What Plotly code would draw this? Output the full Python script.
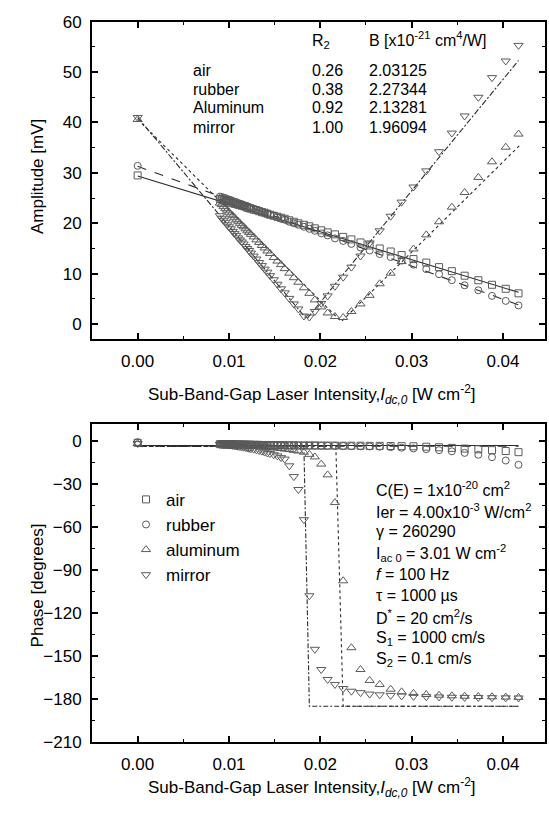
import plotly.graph_objects as go

# ---------------- data ----------------
X = [0.0, 0.0090, 0.0092, 0.0094, 0.0096, 0.0098, 0.0100, 0.0102, 0.0104, 0.0106,
     0.0108, 0.0110, 0.0112, 0.0114, 0.0116, 0.0118, 0.0120, 0.0122, 0.0124,
     0.0127, 0.0130, 0.0133, 0.0136, 0.0139, 0.0142, 0.0145,
     0.0149, 0.0153, 0.0157, 0.0161, 0.0166, 0.0171, 0.0176, 0.0182, 0.0188,
     0.0194, 0.0201, 0.0208, 0.0216, 0.0225, 0.0234, 0.0244, 0.0254, 0.0265, 0.0277,
     0.0289, 0.0302, 0.0316, 0.0330, 0.0344, 0.0358, 0.0373, 0.0388, 0.0403, 0.0417]

amp_air = [29.5, 24.8, 24.7, 24.6, 24.5, 24.4, 24.3, 24.1, 24.0, 23.9, 23.8, 23.7, 23.6, 23.5,
           23.4, 23.3, 23.1, 23.0, 22.9, 22.7, 22.6, 22.4, 22.2, 22.1, 21.9, 21.7,
           21.5, 21.3, 21.1, 20.9, 20.6, 20.3, 20.0, 19.7, 19.4,
           19.0, 18.6, 18.2, 17.8, 17.3, 16.8, 16.2, 15.6, 15.0, 14.4, 13.7, 12.9, 12.2,
           11.3, 10.5, 9.6, 8.7, 7.8, 7.0, 6.1]
amp_rubber = [31.4, 25.3, 25.2, 25.1, 25.0, 24.8, 24.7, 24.6, 24.4, 24.3, 24.2, 24.0, 23.9, 23.8,
              23.6, 23.5, 23.4, 23.2, 23.1, 22.9, 22.7, 22.5, 22.3, 22.1, 21.9, 21.7,
              21.5, 21.2, 20.9, 20.7, 20.3, 20.0, 19.7, 19.3, 18.9,
              18.5, 18.0, 17.6, 17.0, 16.5, 15.9, 15.2, 14.6, 13.9, 13.3, 12.6, 11.8, 10.9,
              9.9, 8.7, 7.7, 6.7, 5.6, 4.6, 3.7]
amp_aluminum = [40.6, 24.0, 23.7, 23.3, 22.9, 22.6, 22.2, 21.8, 21.5, 21.1, 20.7, 20.4, 20.0, 19.6,
                19.3, 18.9, 18.5, 18.2, 17.8, 17.3, 16.7, 16.2, 15.6, 15.1, 14.5, 14.0,
                13.2, 12.5, 11.8, 11.0, 10.1, 9.2, 8.3, 7.2, 6.1,
                4.8, 3.4, 2.2, 1.5, 1.3, 2.5, 4.0, 5.7, 8.0, 10.1, 12.4, 14.9, 17.7,
                20.3, 23.2, 26.1, 29.1, 32.2, 35.1, 37.7]
amp_mirror = [41.0, 21.5, 21.0, 20.6, 20.2, 19.7, 19.3, 18.9, 18.4, 18.0, 17.6, 17.1, 16.7, 16.3,
              15.9, 15.4, 15.0, 14.6, 14.1, 13.5, 12.9, 12.2, 11.6, 10.9, 10.3, 9.6,
              8.8, 7.9, 7.0, 6.2, 5.1, 4.0, 3.0, 1.6, 1.4,
              2.5, 4.1, 5.6, 7.5, 9.3, 11.3, 13.5, 16.1, 18.5, 21.4, 24.2, 27.2, 30.4,
              34.2, 37.9, 41.3, 45.0, 48.9, 52.2, 55.3]

ph_air = [-1.5, -2.4, -2.4, -2.5, -2.5, -2.5, -2.5, -2.6, -2.6, -2.6, -2.6, -2.7, -2.7, -2.7,
          -2.7, -2.8, -2.8, -2.8, -2.8, -2.9, -2.9, -2.9, -3.0, -3.0, -3.0, -3.0,
          -3.1, -3.1, -3.1, -3.2, -3.2, -3.2, -3.3, -3.3, -3.3,
          -3.3, -3.4, -3.4, -3.4, -3.5, -3.5, -3.5, -3.6, -3.6, -3.7, -3.8, -3.9, -4.2,
          -4.6, -5.0, -5.5, -6.0, -6.6, -7.2, -8.0]
ph_rubber = [-1.0, -2.5, -2.5, -2.6, -2.6, -2.6, -2.6, -2.7, -2.7, -2.7, -2.7, -2.8, -2.8, -2.8,
             -2.8, -2.9, -2.9, -2.9, -2.9, -3.0, -3.0, -3.0, -3.1, -3.1, -3.1, -3.2,
             -3.2, -3.2, -3.3, -3.3, -3.3, -3.4, -3.4, -3.4, -3.5,
             -3.5, -3.5, -3.6, -3.6, -3.7, -3.8, -3.9, -4.0, -4.2, -4.5, -4.9, -5.4, -5.9,
             -6.6, -7.4, -8.5, -9.8, -11.5, -13.8, -16.8]
ph_aluminum = [-2.0, -2.4, -2.4, -2.5, -2.5, -2.6, -2.6, -2.7, -2.7, -2.8, -2.8, -2.9, -2.9, -3.0,
               -3.0, -3.1, -3.1, -3.2, -3.3, -3.4, -3.6, -3.8, -4.0, -4.2, -4.4, -4.6,
               -4.9, -5.2, -5.5, -5.8, -6.2, -6.7, -7.2, -8.0, -9.5,
               -11.3, -16.3, -23.8, -43.1, -97.6, -144.2, -159.4, -167.0, -169.8, -173.1,
               -174.9, -176.0, -176.8, -177.3, -177.7, -178.0, -178.2, -178.4, -178.6, -178.8]
ph_mirror = [-2.0, -2.5, -2.6, -2.7, -2.8, -2.9, -3.0, -3.1, -3.3, -3.5, -3.7, -3.9, -4.1, -4.3,
             -4.5, -4.7, -5.0, -5.3, -5.6, -5.9, -6.4, -6.8, -7.3, -7.9, -8.6, -9.0,
             -9.8, -10.6, -11.8, -12.8, -17.5, -25.0, -34.0, -55.0, -108.0,
             -145.3, -159.4, -166.3, -169.8, -172.6, -174.5, -175.5, -176.5, -177.0, -177.4,
             -177.8, -178.1, -178.3, -178.5, -178.7, -178.8, -178.9, -179.0, -179.1, -179.2]

# model (fit) curves
fit_amp_air_x, fit_amp_air_y = [0.0, 0.0417], [29.4, 6.3]
fit_amp_rub_x, fit_amp_rub_y = [0.0, 0.0417], [31.3, 3.8]
fit_amp_al_x, fit_amp_al_y = [0.0, 0.0223, 0.0418], [40.6, 0.5, 35.4]
fit_amp_mi_x, fit_amp_mi_y = [0.0, 0.0185, 0.0417], [41.0, 1.0, 52.3]

fit_ph_air_x, fit_ph_air_y = [0.0, 0.0417], [-3.3, -3.3]
fit_ph_rub_x, fit_ph_rub_y = [0.0, 0.0417], [-3.9, -3.9]
fit_ph_al_x, fit_ph_al_y = [0.0, 0.0217, 0.0225, 0.0417], [-4.0, -4.0, -185.0, -185.0]
fit_ph_mi_x, fit_ph_mi_y = [0.0, 0.0182, 0.0188, 0.0417], [-4.0, -4.0, -185.0, -185.0]

table_names = ["air", "rubber", "Aluminum", "mirror"]
table_r2 = ["0.26", "0.38", "0.92", "1.00"]
table_b = ["2.03125", "2.27344", "2.13281", "1.96094"]

params = ["C(E) = 1x10<sup>-20</sup> cm<sup>2</sup>",
          "Ier = 4.00x10<sup>-3</sup> W/cm<sup>2</sup>",
          "\u03b3 = 260290",
          "I<sub>ac 0</sub> = 3.01 W cm<sup>-2</sup>",
          "<i>f</i> = 100 Hz",
          "\u03c4 = 1000 \u00b5s",
          "D<sup>*</sup> = 20 cm<sup>2</sup>/s",
          "S<sub>1</sub> = 1000 cm/s",
          "S<sub>2</sub> = 0.1 cm/s"]

# ---------------- figure ----------------
W, H = 549, 823
FONT = "Liberation Sans, Arial, sans-serif"
def px(x):
    return x / W
def py(y):
    return 1 - y / H

MC = "#5a5a5a"
LC = "#2a2a2a"
series = [("air", "square-open", 7), ("rubber", "circle-open", 7),
          ("aluminum", "triangle-up-open", 8), ("mirror", "triangle-down-open", 8)]
amp = [amp_air, amp_rubber, amp_aluminum, amp_mirror]
ph = [ph_air, ph_rubber, ph_aluminum, ph_mirror]

fig = go.Figure()

fits_top = [(fit_amp_air_x, fit_amp_air_y, "solid"), (fit_amp_rub_x, fit_amp_rub_y, "dash"),
            (fit_amp_al_x, fit_amp_al_y, "dot"), (fit_amp_mi_x, fit_amp_mi_y, "6px,2px,2px,2px")]
fits_bot = [(fit_ph_air_x, fit_ph_air_y, "solid"), (fit_ph_rub_x, fit_ph_rub_y, "dash"),
            (fit_ph_al_x, fit_ph_al_y, "dot"), (fit_ph_mi_x, fit_ph_mi_y, "5px,2px,2px,2px")]

for fx, fy, d in fits_top:
    fig.add_trace(go.Scatter(x=fx, y=fy, mode="lines", line=dict(color=LC, width=1.1, dash=d),
                             showlegend=False, xaxis="x", yaxis="y"))
for fx, fy, d in fits_bot:
    fig.add_trace(go.Scatter(x=fx, y=fy, mode="lines", line=dict(color=LC, width=1.1, dash=d),
                             showlegend=False, xaxis="x2", yaxis="y2"))

for (name, sym, sz), ya in zip(series, amp):
    fig.add_trace(go.Scatter(x=X, y=ya, mode="markers", name=name,
                             marker=dict(symbol=sym, size=sz, color=MC, line=dict(width=1, color=MC)),
                             showlegend=False, xaxis="x", yaxis="y"))
for (name, sym, sz), yp in zip(series, ph):
    fig.add_trace(go.Scatter(x=X, y=yp, mode="markers", name=name,
                             marker=dict(symbol=sym, size=sz, color=MC, line=dict(width=1, color=MC)),
                             showlegend=True, xaxis="x2", yaxis="y2"))

xdom = [px(92), px(545)]
axis_common = dict(showline=True, linewidth=2, linecolor="black", mirror="ticks",
                   ticks="inside", ticklen=6, tickwidth=1.5, tickcolor="black",
                   showgrid=False, zeroline=False,
                   tickfont=dict(family=FONT, size=17, color="black"))

fig.update_layout(
    width=W, height=H, margin=dict(l=0, r=0, t=0, b=0),
    paper_bgcolor="white", plot_bgcolor="white",
    font=dict(family=FONT, size=16, color="black"),
    xaxis=dict(domain=xdom, range=[-0.005, 0.0446], dtick=0.01, tick0=0, tickformat=".2f",
               minor=dict(ticks="inside", ticklen=3, dtick=0.005, tick0=0, tickcolor="black", tickwidth=1.2),
               anchor="y", ticklabelstandoff=5, **axis_common),
    yaxis=dict(domain=[py(338), py(13)], range=[-3, 60], dtick=10, tick0=0,
               minor=dict(ticks="inside", ticklen=3, dtick=5, tick0=0, tickcolor="black", tickwidth=1.2),
               anchor="x", ticklabelstandoff=5, **axis_common),
    xaxis2=dict(domain=xdom, range=[-0.005, 0.0446], dtick=0.01, tick0=0, tickformat=".2f",
                minor=dict(ticks="inside", ticklen=3, dtick=0.005, tick0=0, tickcolor="black", tickwidth=1.2),
                anchor="y2", ticklabelstandoff=5, **axis_common),
    yaxis2=dict(domain=[py(750.5), py(425)], range=[-210, 11.5], dtick=30, tick0=0,
                minor=dict(ticks="inside", ticklen=3, dtick=15, tick0=0, tickcolor="black", tickwidth=1.2),
                anchor="x2", ticklabelstandoff=5, **axis_common),
    legend=dict(x=px(126), y=py(484), xanchor="left", yanchor="top",
                bgcolor="rgba(0,0,0,0)", font=dict(family=FONT, size=17),
                itemwidth=30, tracegroupgap=0),
)

ann = []
def A(x, y, text, size=16, xanchor="left", angle=0):
    ann.append(dict(x=px(x), y=py(y), xref="paper", yref="paper", text=text, showarrow=False,
                    xanchor=xanchor, yanchor="middle", textangle=angle,
                    font=dict(family=FONT, size=size, color="black")))

xtitle = "Sub-Band-Gap Laser Intensity,<i>I</i><sub><i>dc,0</i></sub> [W cm<sup>-2</sup>]"
A(312, 395, xtitle, 17, "center")
A(312, 797, xtitle, 17, "center")
A(37, 172, "Amplitude [mV]", 17, "center", -90)
A(37, 590, "Phase [degrees]", 17, "center", -90)

# top table
A(310, 33, "R<sub>2</sub>", 16)
A(367, 31, "B [x10<sup>-21</sup> cm<sup>4</sup>/W]", 16)
rows_y = [63, 82, 101, 121]
for n, r, b, yy in zip(table_names, table_r2, table_b, rows_y):
    A(191, yy, n, 16)
    A(310, yy, r, 16)
    A(367, yy, b, 16)

# parameter block
for i, t in enumerate(params):
    A(374, 491.7 + 21.75 * i, t, 16)

fig.update_layout(annotations=ann)
fig.write_html("out.html")
